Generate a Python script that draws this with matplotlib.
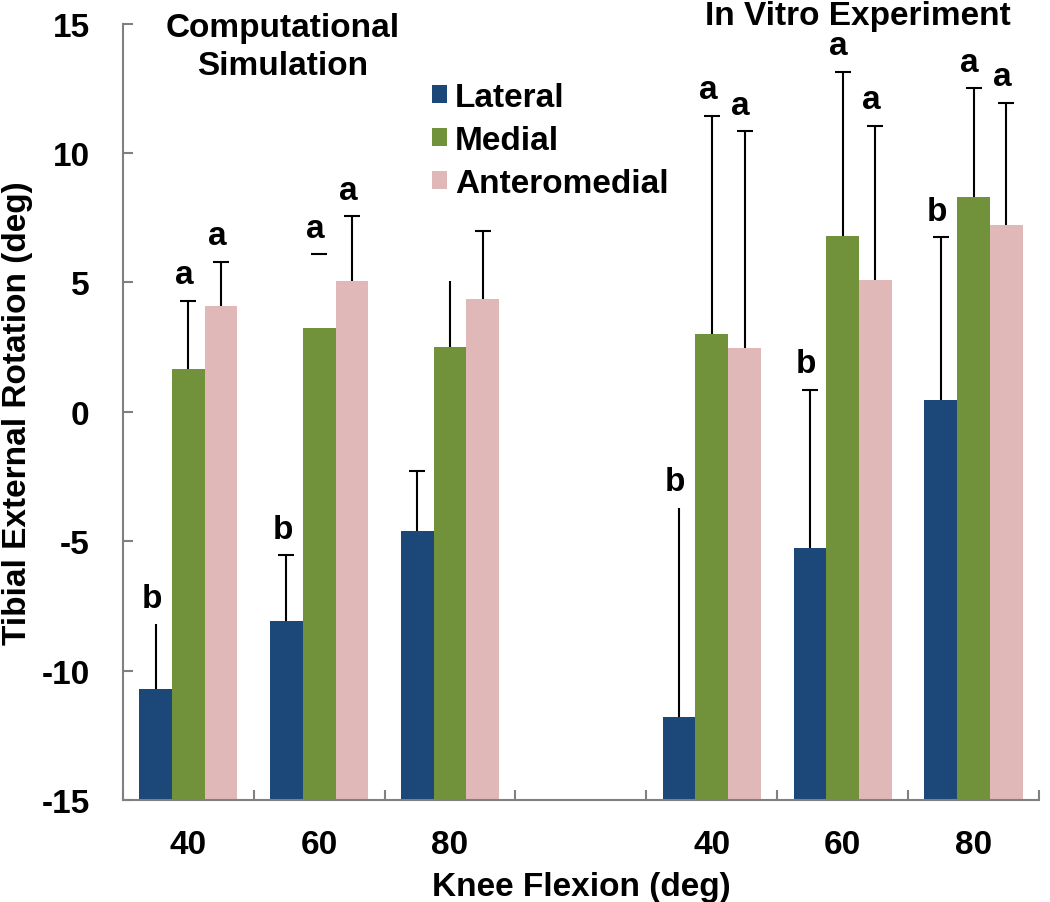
import numpy as np
import matplotlib
matplotlib.use('Agg')
import matplotlib.pyplot as plt

plt.rcParams['font.family'] = ['Liberation Sans', 'DejaVu Sans']
plt.rcParams['font.weight'] = 'bold'
plt.rcParams['axes.unicode_minus'] = False

# data
flexion = ['40', '60', '80', '', '40', '60', '80']
lateral = [-10.7, -8.1, -4.6, np.nan, -11.8, -5.25, 0.45]
medial = [1.65, 3.25, 2.5, np.nan, 3.0, 6.8, 8.3]
anteromedial = [4.1, 5.05, 4.35, np.nan, 2.45, 5.1, 7.2]
lateral_err = [2.5, 2.55, 2.3, np.nan, 8.1, 6.1, 6.3]
medial_err = [2.65, 2.85, 2.55, np.nan, 8.45, 6.35, 4.2]
anteromedial_err = [1.7, 2.5, 2.65, np.nan, 8.4, 5.95, 4.75]
lateral_sig = ['b', 'b', '', '', 'b', 'b', 'b']
medial_sig = ['a', 'a', '', '', 'a', 'a', 'a']
anteromedial_sig = ['a', 'a', '', '', 'a', 'a', 'a']

# which error bars show a cap / a stem in the original
lateral_cap = [False, True, True, False, False, True, True]
medial_cap = [True, True, False, False, True, True, True]
anteromedial_cap = [True, True, True, False, True, True, True]
medial_stem = [True, False, True, False, True, True, True]

colors = ['#1b4878', '#71913a', '#e0b8b8']
ymin = -15
fs = 24

fig = plt.figure(figsize=(10.5, 9.03), dpi=100)
ax = fig.add_axes([0.117, 0.113, 0.8725, 0.8597])

x = np.arange(len(flexion))
w = 0.25
series = [
    ('Lateral', lateral, lateral_err, lateral_sig, lateral_cap, [True] * 7),
    ('Medial', medial, medial_err, medial_sig, medial_cap, medial_stem),
    ('Anteromedial', anteromedial, anteromedial_err, anteromedial_sig, anteromedial_cap, [True] * 7),
]
handles = []
for i, (name, vals, errs, sig, caps, stems) in enumerate(series):
    vals = np.array(vals)
    xs = x + (i - 1) * w
    b = ax.bar(xs, vals - ymin, bottom=ymin, width=w, color=colors[i], label=name, zorder=2)
    handles.append(b)
    for xi, v, e, s, c, st in zip(xs, vals, errs, sig, caps, stems):
        if np.isnan(v):
            continue
        if st:
            ax.vlines(xi, v, v + e, color='black', linewidth=1.5, zorder=3)
        if c:
            ax.plot(xi, v + e, marker='_', markersize=12, mew=1.5, color='black', zorder=3)
        if s:
            ax.text(xi - 0.03, v + e + 1.0, s, ha='center', va='center',
                    fontsize=fs, fontweight='bold')

ax.set_ylim(ymin, 15)
ax.set_xlim(-0.5, len(flexion) - 0.5)
ax.set_yticks([-15, -10, -5, 0, 5, 10, 15])
ax.set_xticks(np.arange(len(flexion) + 1) - 0.5)
ax.set_xticklabels([])
ax.set_xticks(x, minor=True)
ax.set_xticklabels(flexion, minor=True)
ax.tick_params(axis='x', which='major', direction='in', length=7, width=1.5, color='#808080')
ax.tick_params(axis='x', which='minor', length=0, pad=21, labelsize=fs)
ax.tick_params(axis='y', direction='in', length=7, width=1.5, color='#808080', pad=24, labelsize=fs)
for lab in ax.get_yticklabels() + ax.get_xticklabels(minor=True):
    lab.set_fontweight('bold')

for side in ['top', 'right']:
    ax.spines[side].set_visible(False)
for side in ['left', 'bottom']:
    ax.spines[side].set_color('#808080')
    ax.spines[side].set_linewidth(1.5)

ax.set_xlabel('Knee Flexion (deg)', fontsize=fs, fontweight='bold', labelpad=8)
ax.set_ylabel('Tibial External Rotation (deg)', fontsize=fs, fontweight='bold', labelpad=6)

ax.text(0.72, 14.85, 'Computational', ha='center', va='center', fontsize=fs, fontweight='bold')
ax.text(0.72, 13.4, 'Simulation', ha='center', va='center', fontsize=fs, fontweight='bold')
ax.text(5.12, 15.3, 'In Vitro Experiment', ha='center', va='center', fontsize=fs,
        fontweight='bold', clip_on=False)

ax.legend(handles=handles, loc='upper left', bbox_to_anchor=(0.337, 0.925), frameon=False,
          fontsize=fs, handlelength=0.45, handleheight=0.45, handletextpad=0.25,
          labelspacing=0.36, borderaxespad=0, borderpad=0)

fig.savefig('out.png', dpi=100)
